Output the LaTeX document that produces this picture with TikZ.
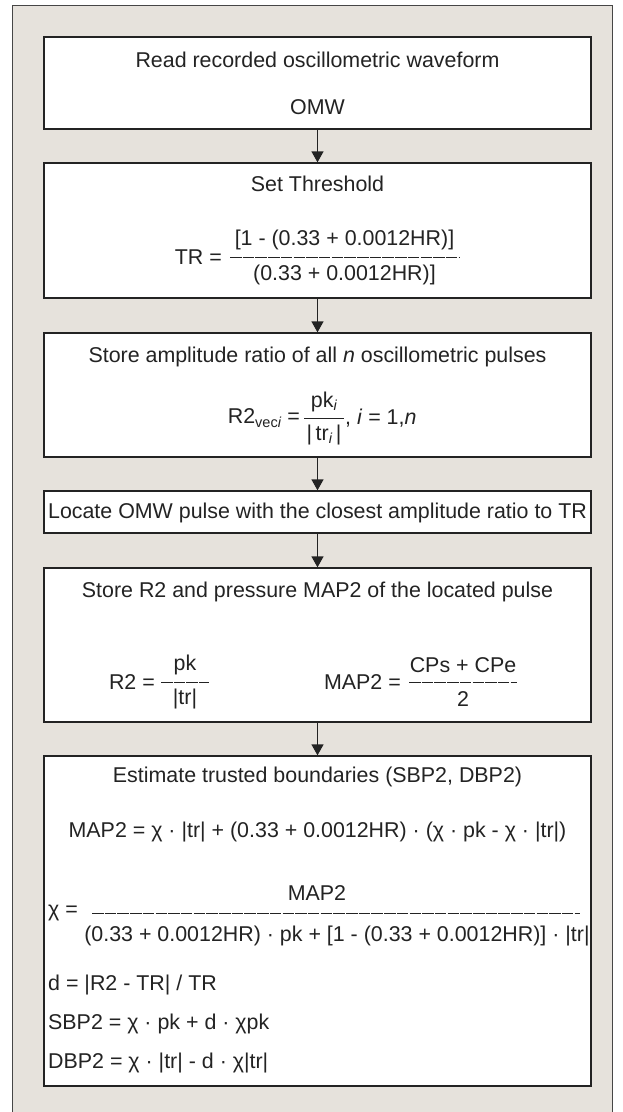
\documentclass[tikz,border=0pt]{standalone}
\usepackage{fontspec}
\setmainfont{Liberation Sans}
\usetikzlibrary{arrows.meta}
\definecolor{bggray}{RGB}{230,226,220}
\definecolor{framegray}{RGB}{70,70,70}
\definecolor{inkgray}{RGB}{35,35,35}
\tikzset{
  box/.style={draw=inkgray, line width=1.3pt, fill=white, minimum width=547pt, inner sep=0pt},
  txt/.style={inner sep=0pt, text=inkgray, font=\fontsize{21.4}{24}\selectfont},
  flow/.style={draw=inkgray, line width=1.3pt, -{Triangle[length=11pt,width=12pt]}},
  fracline/.style={draw=inkgray, line width=1pt, dash pattern=on 11.5pt off 1.2pt},
}
\newcommand{\sub}[1]{\raisebox{-0.3ex}{\fontsize{14.5}{16}\selectfont #1}}
\begin{document}
\begin{tikzpicture}[x=1pt,y=-1pt]
\useasboundingbox (0,0) rectangle (623,1112);
\fill[white] (0,0) rectangle (623,1112);
\fill[bggray] (12,5) rectangle (612,1112);
\draw[framegray, line width=0.9pt] (12,1112) -- (12,5) -- (612,5) -- (612,1112);
% boxes
\node[box, minimum height=92pt] (b1) at (317.5,83) {};
\node[box, minimum height=135pt] (b2) at (317.5,230.5) {};
\node[box, minimum height=124pt] (b3) at (317.5,395) {};
\node[box, minimum height=42pt] (b4) at (317.5,512) {};
\node[box, minimum height=154pt] (b5) at (317.5,645) {};
\node[box, minimum height=330pt] (b6) at (317.5,921) {};
% arrows
\draw[flow] (b1.south) -- (b2.north);
\draw[flow] (b2.south) -- (b3.north);
\draw[flow] (b3.south) -- (b4.north);
\draw[flow] (b4.south) -- (b5.north);
\draw[flow] (b5.south) -- (b6.north);
% box 1
\node[txt] (t1a) at (317.5,60) {Read recorded oscillometric waveform};
\node[txt] (t1b) at (317.5,107) {OMW};
% box 2
\node[txt] (t2a) at (317.5,184) {Set Threshold};
\node[txt, anchor=east] (t2eq) at (222,257) {TR =};
\coordinate (l2a) at (230,257);
\coordinate (l2b) at (459,257);
\draw[fracline] (l2a) -- (l2b);
\node[txt] (t2n) at (344.5,240) {[1 - (0.33 + 0.0012HR)]};
\node[txt] (t2d) at (344.5,275) {(0.33 + 0.0012HR)]};
% box 3
\node[txt] (t3a) at (317.5,357) {Store amplitude ratio of all \textit{n} oscillometric pulses};
\node[txt, anchor=east] (t3eq) at (300,418) {R2\sub{vec\textit{i}} =};
\coordinate (l3a) at (304,418);
\coordinate (l3b) at (344,418);
\draw[draw=inkgray, line width=1pt] (l3a) -- (l3b);
\node[txt] (t3n) at (324,402) {pk\sub{\textit{i}}};
\node[txt] (t3d) at (324,435) {|\,tr\sub{\textit{i}}\,|};
\node[txt, anchor=west] (t3r) at (345,418) {, \textit{i} = 1,\textit{n}};
% box 4
\node[txt] (t4) at (317.5,512.5) {Locate OMW pulse with the closest amplitude ratio to TR};
% box 5
\node[txt] (t5a) at (317.5,592) {Store R2 and pressure MAP2 of the located pulse};
\node[txt, anchor=east] (t5eq1) at (155,682) {R2 =};
\coordinate (l5a) at (161,682);
\coordinate (l5b) at (209,682);
\draw[fracline] (l5a) -- (l5b);
\node[txt] (t5n1) at (185,665) {pk};
\node[txt] (t5d1) at (185,699) {|tr|};
\node[txt, anchor=east] (t5eq2) at (401,682) {MAP2 =};
\coordinate (l5c) at (409,682);
\coordinate (l5d) at (517,682);
\draw[fracline] (l5c) -- (l5d);
\node[txt] (t5n2) at (463,665) {CPs + CPe};
\node[txt] (t5d2) at (463,699) {2};
% box 6
\node[txt] (t6a) at (317.5,777) {Estimate trusted boundaries (SBP2, DBP2)};
\node[txt] (t6b) at (317.5,832) {MAP2 = χ · |tr| + (0.33 + 0.0012HR) · (χ · pk - χ · |tr|)};
\node[txt, anchor=west] (t6eq) at (48,913) {χ =};
\coordinate (l6a) at (92,913);
\coordinate (l6b) at (580,913);
\draw[fracline] (l6a) -- (l6b);
\node[txt] (t6n) at (317,893) {MAP2};
\node[txt] (t6d) at (337,936) {(0.33 + 0.0012HR) · pk + [1 - (0.33 + 0.0012HR)] · |tr|};
\node[txt, anchor=west] (t6c) at (48,985) {d = |R2 - TR| / TR};
\node[txt, anchor=west] (t6e) at (48,1024) {SBP2 = χ · pk + d · χpk};
\node[txt, anchor=west] (t6f) at (48,1063) {DBP2 = χ · |tr| - d · χ|tr|};
\end{tikzpicture}
\end{document}
